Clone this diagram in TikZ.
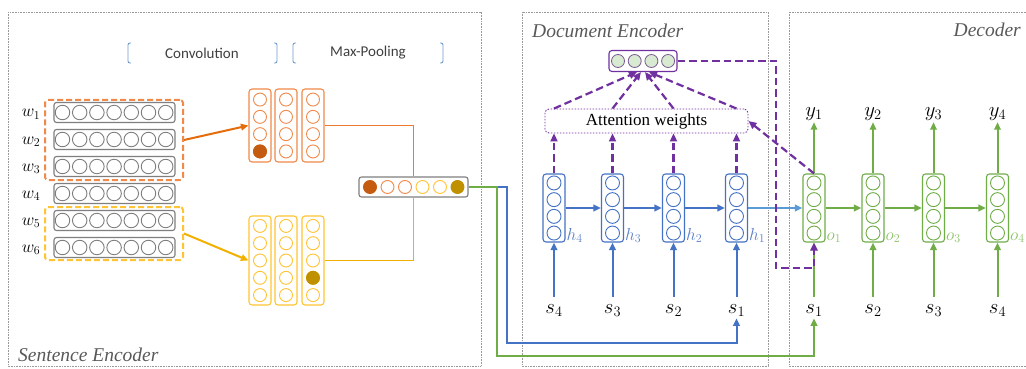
\documentclass[tikz,border=0pt]{standalone}
\usepackage{fontspec}
\setmainfont{Liberation Serif}
\newfontfamily\calibri{Carlito}
\usetikzlibrary{arrows.meta,calc}
\definecolor{orL}{HTML}{F08A4B}
\definecolor{orA}{HTML}{E46C0A}
\definecolor{orD}{HTML}{C55A11}
\definecolor{orN}{HTML}{EE7A30}
\definecolor{yeL}{HTML}{FFC433}
\definecolor{yeA}{HTML}{F2B100}
\definecolor{yeD}{HTML}{BF9000}
\definecolor{bxg}{HTML}{7F7F7F}
\definecolor{blM}{HTML}{4472C4}
\definecolor{blT}{HTML}{5B7FC8}
\definecolor{blL}{HTML}{5B9BD5}
\definecolor{grM}{HTML}{70AD47}
\definecolor{grL}{HTML}{8CC167}
\definecolor{pur}{HTML}{7030A0}
\definecolor{ctxf}{HTML}{D9EAD3}
\definecolor{pang}{HTML}{9A9A9A}
\definecolor{ttl}{HTML}{595959}
\definecolor{brk}{HTML}{6F9BD0}
\begin{document}
\begin{tikzpicture}[x=1pt,y=-1pt,
  panel/.style={draw=pang, line width=0.6pt, dash pattern=on 0.8pt off 0.8pt},
  ttlfont/.style={font=\fontsize{19.5}{22}\selectfont\itshape, text=ttl, inner sep=0pt},
  cir/.style={circle, draw=#1, line width=0.9pt, minimum size=13pt, inner sep=0pt},
  fcir/.style={circle, draw=#1, fill=#1, line width=0.9pt, minimum size=13pt, inner sep=0pt},
  wbox/.style={draw=bxg, rounded corners=2.5pt, line width=1.1pt, minimum width=121pt, minimum height=20pt, inner sep=0pt},
  col/.style={draw=#1, rounded corners=3pt, line width=1.1pt, minimum width=22pt, inner sep=0pt},
  lab/.style={font=\fontsize{20.74}{24}\selectfont, inner sep=2pt, anchor=base},
  arr/.style={-{Triangle[length=7.5pt,width=6.5pt]}, line width=2pt},
  parr/.style={-{Triangle[length=8pt,width=7pt]}, draw=pur, line width=2.2pt, dash pattern=on 7.5pt off 4pt},
  hdr/.style={font=\calibri\fontsize{15}{18}\selectfont, text=black!75},
  feed/.style={line width=1.7pt},
]
\useasboundingbox (0,0) rectangle (1026,369);
\fill[white] (0,0) rectangle (1026,369);

% panels
\draw[panel] (8,12) rectangle (481,366);
\draw[panel] (522,12) rectangle (768,366);
\draw[panel] (789,12) rectangle (1040,366);
\node[ttlfont, anchor=base west] (tse) at (18,361) {Sentence Encoder};
\node[ttlfont, anchor=base west] (tde) at (532,38) {Document Encoder};
\node[ttlfont, anchor=base east] (tdc) at (1021,37) {Decoder};

% header brackets
\foreach \x/\e in {128/131,293/296,277/274,443/440}
  \draw[brk, line width=0.9pt, rounded corners=2pt] (\e,43) -- (\x,43) -- (\x,63) -- (\e,63);
\node[hdr] (conv) at (202,53) {Convolution};
\node[hdr] (mpool) at (368,53) {Max-Pooling};

% word rows
\foreach \i/\y in {1/112.5,2/139.5,3/166.5,4/193.5,5/220.5,6/247.5}{
  \node[wbox] (w\i) at (114.5,\y) {};
  \foreach \k in {0,...,6}
    \node[cir=bxg, minimum size=14.5pt] (w\i-\k) at ({62.5+17.2*\k},\y) {};
  \node[lab, font=\fontsize{17.28}{20}\selectfont] (wl\i) at (31,{\y+4.5}) {$w_{\i}$};
}
\node[draw=orL, line width=2pt, dash pattern=on 6pt off 3pt, rounded corners=3pt, minimum width=138pt, minimum height=80pt, inner sep=0pt] (odash) at (114,140) {};
\node[draw=yeL, line width=2pt, dash pattern=on 6pt off 3pt, rounded corners=3pt, minimum width=138pt, minimum height=53pt, inner sep=0pt] (ydash) at (114,233.5) {};

% convolution columns
\foreach \j/\x in {1/260,2/286,3/313}{
  \node[col=orL, minimum height=73pt] (oc\j) at (\x,125.5) {};
  \foreach \k in {0,...,3}
    \node[cir=orL] (oc\j-\k) at (\x,{125.5+17.3*(\k-1.5)}) {};
  \node[col=yeL, minimum height=89pt] (yc\j) at (\x,260.5) {};
  \foreach \k in {0,...,4}
    \node[cir=yeL] (yc\j-\k) at (\x,{260.5+17.3*(\k-2)}) {};
}
\node[fcir=orD] (ocf) at (oc1-3) {};
\node[fcir=yeD] (ycf) at (yc3-3) {};
\draw[arr, draw=orA] (odash.east) -- (oc1.west);
\draw[arr, draw=yeA] (ydash.east) -- (yc1.west);

% pooled vector
\node[draw=bxg, rounded corners=2.5pt, line width=1.1pt, minimum width=109pt, minimum height=20pt, inner sep=0pt] (pool) at (413.5,187) {};
\node[fcir=orD] (p0) at (370,187) {};
\node[cir=orL] (p1) at (387.5,187) {};
\node[cir=orL] (p2) at (405,187) {};
\node[cir=yeL] (p3) at (422.5,187) {};
\node[cir=yeL] (p4) at (440,187) {};
\node[fcir=yeD] (p5) at (457.5,187) {};
\draw[feed, draw=orN] (oc3.east) -- (413.5,125.5) -- (pool.north);
\draw[feed, draw=yeA] (yc3.east) -- (413.5,260.5) -- (pool.south);

% attention box and context vector
\node[draw=pur, line width=0.9pt, dash pattern=on 1.5pt off 1.5pt, rounded corners=4pt, minimum width=203pt, minimum height=24pt, font=\fontsize{17}{20}\selectfont] (att) at (646.5,121) {Attention weights};
\node[draw=pur, rounded corners=3pt, line width=1.1pt, minimum width=68pt, minimum height=21pt, inner sep=0pt] (ctx) at (643,61) {};
\foreach \k in {0,...,3}
  \node[circle, draw=pur!50!gray, fill=ctxf, line width=0.8pt, minimum size=13pt, inner sep=0pt] (ctx-\k) at ({618+16.7*\k},61) {};

% document encoder
\foreach \n/\x in {4/554,3/612.5,2/673.5,1/736.5}{
  \node[col=blM, minimum height=68pt] (h\n) at (\x,208) {};
  \foreach \k in {0,...,3}
    \node[cir=blM, minimum size=14pt] (h\n-\k) at (\x,{208+16.7*(\k-1.5)}) {};
  \node[lab, font=\fontsize{17.28}{20}\selectfont, anchor=base west, text=blT, inner sep=0pt] (hl\n) at ({\x+12.5},240) {$h_{\n}$};
  \node[lab] (es\n) at (\x,313) {$s_{\n}$};
  \draw[arr, draw=blM] ([yshift=5pt]es\n.north) -- (h\n.south);
  \draw[parr] (h\n.north) -- (h\n.north |- att.south);
}
\draw[arr, draw=blM] (h4.east) -- (h3.west);
\draw[arr, draw=blM] (h3.east) -- (h2.west);
\draw[arr, draw=blM] (h2.east) -- (h1.west);

\draw[parr] (att.north -| h4.north) -- ([xshift=-6pt]ctx.south);
\draw[parr] (att.north -| h3.north) -- ([xshift=-2pt]ctx.south);
\draw[parr] (att.north -| h2.north) -- ([xshift=2pt]ctx.south);
\draw[parr] (att.north -| h1.north) -- ([xshift=6pt]ctx.south);

% decoder
\foreach \n/\x in {1/814,2/873,3/933.5,4/997.5}{
  \node[col=grM, minimum height=68pt] (o\n) at (\x,208) {};
  \foreach \k in {0,...,3}
    \node[cir=grM, minimum size=14pt] (o\n-\k) at (\x,{208+16.7*(\k-1.5)}) {};
  \node[lab, font=\fontsize{17.28}{20}\selectfont, anchor=base west, text=grL, inner sep=0pt] (ol\n) at ({\x+12.5},240) {$o_{\n}$};
  \node[lab] (ds\n) at (\x,313) {$s_{\n}$};
  \node[lab] (y\n) at (\x,116) {$y_{\n}$};
  \draw[arr, draw=grM] ([yshift=5pt]ds\n.north) -- (o\n.south);
  \draw[arr, draw=grM] (o\n.north) -- (y\n.south);
}
\draw[arr, draw=grM] (o1.east) -- (o2.west);
\draw[arr, draw=grM] (o2.east) -- (o3.west);
\draw[arr, draw=grM] (o3.east) -- (o4.west);
\draw[arr, draw=blL] (h1.east) -- (o1.west);

% routes from the pooled vector
\draw[arr, draw=blM] (pool.east) -- (507,187) -- (507,343) -| (es1.south);
\draw[arr, draw=grM] (pool.east) -- (497,187) -- (497,356) -| (ds1.south);

% purple routes
\draw[parr] (ctx.east) -- (776,61) -- (776,268) -| (o1.south);
\draw[parr] (o1.north) -- (att.east);
\end{tikzpicture}
\end{document}
